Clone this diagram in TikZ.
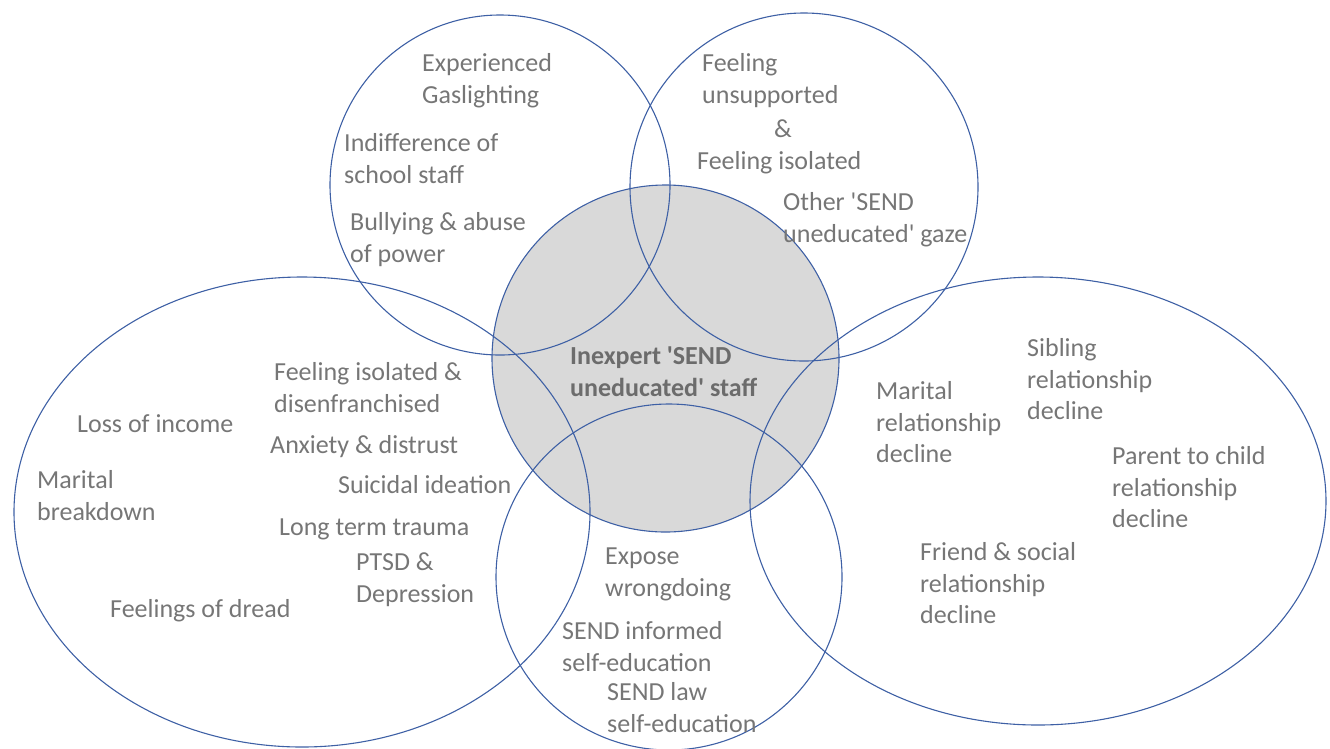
\documentclass[tikz,border=0pt]{standalone}
\usepackage{fontspec}
\setmainfont{Carlito}
\definecolor{ln}{RGB}{62,96,165}
\definecolor{txt}{RGB}{118,118,118}
\definecolor{ctxt}{RGB}{108,108,108}
\definecolor{fillg}{RGB}{217,217,217}
\newcommand{\q}{\textquotesingle}
\begin{document}
\begin{tikzpicture}[x=1pt,y=-1pt,
  lbl/.style={anchor=base west, inner sep=0pt, align=left, text=txt, font=\fontsize{26}{31.7}\selectfont},
  ring/.style={draw=ln, line width=1.1pt}]
\useasboundingbox (0,0) rectangle (1330,748);
% shapes
\fill[fillg] (665.5,358.5) circle[radius=173.5pt];
\draw[ring] (665.5,358.5) circle[radius=173.5pt];
\draw[ring] (500,185) circle[radius=170pt];
\draw[ring] (804,187) circle[radius=174pt];
\draw[ring] (302,512) ellipse[x radius=288pt, y radius=235pt];
\draw[ring] (1038,501) ellipse[x radius=288pt, y radius=224pt];
\draw[ring] (669,577) circle[radius=173pt];
% top-left circle (anchor = baseline of last line)
\node[lbl] (gas) at (422,103.2) {Experienced\\Gaslighting};
\node[lbl] (ind) at (344,183.2) {Indifference of\\school staff};
\node[lbl] (bul) at (350,262.2) {Bullying \& abuse\\of power};
% top-right circle
\node[lbl] (uns) at (702,103.2) {Feeling\\unsupported};
\node[lbl] (amp) at (774,137.5) {\&};
\node[lbl] (iso) at (697,169.5) {Feeling isolated};
\node[lbl] (gaze) at (783,242.2) {Other \q SEND\\uneducated\q\ gaze};
% centre
\node[lbl, text=ctxt, font=\fontsize{26}{31.7}\selectfont\bfseries] (core) at (570,396.2) {Inexpert \q SEND\\uneducated\q\ staff};
% left ellipse
\node[lbl] (inc) at (77,432) {Loss of income};
\node[lbl] (mar) at (37,520.2) {Marital\\breakdown};
\node[lbl] (dread) at (110,617.5) {Feelings of dread};
\node[lbl] (dis) at (274,412.2) {Feeling isolated \&\\disenfranchised};
\node[lbl] (anx) at (270,453.5) {Anxiety \& distrust};
\node[lbl] (sui) at (338,493.5) {Suicidal ideation};
\node[lbl] (trau) at (279,535.5) {Long term trauma};
\node[lbl] (ptsd) at (356,602.2) {PTSD \&\\Depression};
% right ellipse
\node[lbl] (mrel) at (876,462.9) {Marital\\relationship\\decline};
\node[lbl] (sib) at (1027,419.9) {Sibling\\relationship\\decline};
\node[lbl] (par) at (1112,527.9) {Parent to child\\relationship\\decline};
\node[lbl] (fri) at (920,623.9) {Friend \& social\\relationship\\decline};
% bottom circle
\node[lbl] (exp) at (605,596.2) {Expose\\wrongdoing};
\node[lbl] (inf) at (562,671.2) {SEND informed\\self-education};
\node[lbl] (law) at (607,732.2) {SEND law\\self-education};
\end{tikzpicture}
\end{document}
